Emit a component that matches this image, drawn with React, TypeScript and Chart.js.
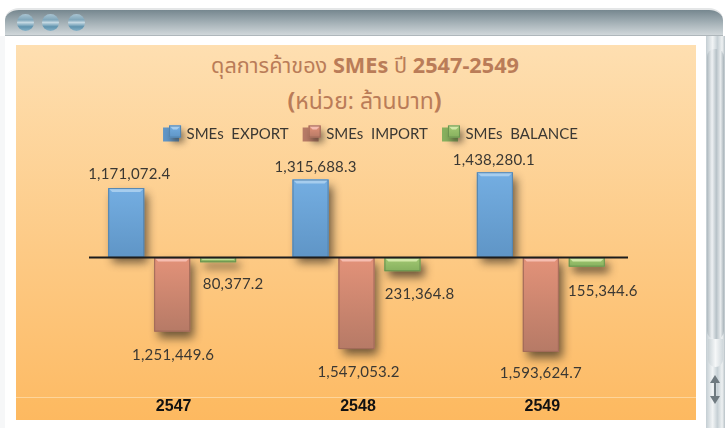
import React, { useEffect, useRef } from "react";
import { Chart, registerables } from "chart.js";

Chart.register(...registerables);

const categories = ["2547", "2548", "2549"];
const seriesNames = ["SMEs  EXPORT", "SMEs  IMPORT", "SMEs  BALANCE"];
const exportValues = [1171072.4, 1315688.3, 1438280.1];
const importValues = [-1251449.6, -1547053.2, -1593624.7];
const balanceValues = [-80377.2, -231364.8, -155344.6];

const palettes = [
  { top: "#74aee2", bottom: "#5f95c6", light: "#a6cdee", dark: "#5484ae" },
  { top: "#e39279", bottom: "#b67a66", light: "#f6bdb0", dark: "#a06a58" },
  { top: "#a3c973", bottom: "#86b05e", light: "#d3e8a8", dark: "#6c9450" },
];
// Label nudges from the bar end, per series / category [dx, dy]
const labelNudges = [
  [[3, -14], [5, -12], [-1, -12]],
  [[1, 24], [2, 23], [0, 21]],
  [[15, 22], [17, 23], [16, 25]],
];

const labelText = (v: number) =>
  Math.abs(v).toLocaleString("en-US", { minimumFractionDigits: 1, maximumFractionDigits: 1 });

function bevel(ctx: CanvasRenderingContext2D, x: number, y: number, w: number, h: number, p: typeof palettes[0]) {
  const g = ctx.createLinearGradient(0, y, 0, y + h);
  g.addColorStop(0, p.top);
  g.addColorStop(1, p.bottom);
  ctx.fillStyle = g;
  ctx.fillRect(x, y, w, h);
  const b = Math.min(4, h / 2);
  ctx.fillStyle = p.light;
  ctx.beginPath();
  ctx.moveTo(x, y);
  ctx.lineTo(x + w, y);
  ctx.lineTo(x + w - b, y + b);
  ctx.lineTo(x + b, y + b);
  ctx.closePath();
  ctx.fill();
  ctx.strokeStyle = p.dark;
  ctx.lineWidth = 1;
  ctx.strokeRect(x + 0.5, y + 0.5, w - 1, h - 1);
}

const decor = {
  id: "decor",
  beforeDatasetDraw(chart: any) {
    const c = chart.ctx;
    c.save();
    c.shadowColor = "rgba(50,40,30,0.7)";
    c.shadowBlur = 9;
    c.shadowOffsetX = 4;
    c.shadowOffsetY = 6;
  },
  afterDatasetDraw(chart: any, args: any) {
    const c = chart.ctx;
    c.restore();
    const meta = chart.getDatasetMeta(args.index);
    meta.data.forEach((el: any) => {
      const top = Math.min(el.y, el.base);
      const h = Math.abs(el.y - el.base);
      bevel(c, el.x - el.width / 2, top, el.width, h, palettes[args.index]);
    });
  },
  afterDatasetsDraw(chart: any) {
    const c = chart.ctx;
    const { x, y } = chart.scales;
    const zero = y.getPixelForValue(0);
    c.save();
    c.strokeStyle = "#1c1c1c";
    c.lineWidth = 2;
    c.beginPath();
    c.moveTo(x.left + 9, zero);
    c.lineTo(x.right - 5, zero);
    c.stroke();
    c.font = "15px Lato";
    c.fillStyle = "#3b3833";
    c.textAlign = "center";
    c.textBaseline = "middle";
    (c as any).letterSpacing = "0.2px";
    chart.data.datasets.forEach((ds: any, i: number) => {
      chart.getDatasetMeta(i).data.forEach((el: any, j: number) => {
        const [dx, dy] = labelNudges[i][j];
        c.fillText(labelText(ds.data[j]), el.x + dx, el.y + dy);
      });
    });
    c.restore();
  },
  afterLayout(chart: any) {
    chart.legend.left += 14;
    chart.legend.right += 14;
  },
  afterDraw(chart: any) {
    const c = chart.ctx;
    (chart.legend.legendHitBoxes || []).forEach((box: any, i: number) => {
      const s = 12;
      const bx = box.left + 6;
      const by = box.top + (box.height - s) / 2 - 3;
      c.save();
      c.shadowColor = "rgba(50,40,30,0.6)";
      c.shadowBlur = 7;
      c.shadowOffsetX = 3;
      c.shadowOffsetY = 5;
      c.fillStyle = palettes[i].bottom;
      c.fillRect(bx, by, s, s);
      c.restore();
      bevel(c, bx, by, s, s, palettes[i]);
    });
  },
};

const thai = "'Noto Sans', 'Noto Sans Thai', Lato, sans-serif";

const abs = (l: number, t: number, w: number, h: number, extra: React.CSSProperties = {}): React.CSSProperties => ({
  position: "absolute",
  left: l,
  top: t,
  width: w,
  height: h,
  ...extra,
});

const dot = (l: number) => (
  <div
    key={l}
    style={abs(l, 14, 17, 17, {
      borderRadius: "50%",
      background: "linear-gradient(#a9c4d2 0%, #7fa6ba 35%, #c4d8e2 50%, #5f93ae 75%, #86b2c8 100%)",
    })}
  />
);

export default function App() {
  const ref = useRef<HTMLCanvasElement>(null);
  useEffect(() => {
    document.body.style.margin = "0";
    const chart = new Chart(ref.current!, {
      type: "bar",
      data: {
        labels: categories,
        datasets: [exportValues, importValues, balanceValues].map((data, i) => ({
          label: seriesNames[i],
          data,
          backgroundColor: palettes[i].bottom,
          categoryPercentage: 0.748,
          barPercentage: 0.783,
        })),
      },
      options: {
        animation: false,
        responsive: false,
        layout: { padding: { left: 80, right: 92, top: 113, bottom: 8 } },
        plugins: {
          tooltip: { enabled: false },
          title: { display: false },
          legend: {
            position: "top",
            labels: {
              boxWidth: 16,
              boxHeight: 14,
              padding: 14,
              color: "#3b3833",
              font: { family: "Lato", size: 15 },
            },
          },
        },
        scales: {
          x: {
            grid: { display: false, drawTicks: false },
            border: { display: false },
            afterFit(s: any) {
              s.height = 23;
            },
            ticks: {
              color: "#111",
              maxRotation: 0,
              padding: 0,
              labelOffset: 1.5,
              font: { family: "'Liberation Sans'", size: 16, weight: "bold" },
            },
          },
          y: { display: false, min: -2356000, max: 1780000 },
        },
      } as any,
      plugins: [decor as any],
    });
    return () => chart.destroy();
  }, []);

  return (
    <div style={{ position: "relative", width: 725, height: 428, overflow: "hidden", background: "#fff" }}>
      <div
        style={abs(5, 8, 718, 28, {
          borderRadius: "14px 14px 0 0 / 12px 12px 0 0",
          background: "linear-gradient(#76878f 0%, #a0adb3 45%, #cfd6d9 95%, #9aa3a8 100%)",
          borderTop: "2px solid #e4e6e7",
          boxSizing: "border-box",
        })}
      />
      {[17, 42, 68].map(dot)}
      <div style={abs(0, 36, 5, 392, { background: "#f6f7f8" })} />
      <div
        style={abs(706, 36, 19, 392, {
          background: "linear-gradient(90deg, #c4ced3 0%, #f1f4f5 35%, #c6d0d5 60%, #eef1f2 85%, #b8c2c7 100%)",
        })}
      />
      <div
        style={abs(707, 49, 17, 290, {
          borderRadius: "8px 8px 8px 8px",
          background: "linear-gradient(90deg, #aeb9bf 0%, #eef1f3 30%, #b7c2c8 55%, #e6eaec 80%, #a8b3b9 100%)",
        })}
      />
      <div style={abs(708, 339, 15, 28, { background: "linear-gradient(90deg,#c9d2d6,#f5f7f8,#d0d8dc)", borderRadius: "0 0 8px 8px" })} />
      <div style={abs(710, 375, 0, 0, { borderLeft: "5px solid transparent", borderRight: "5px solid transparent", borderBottom: "8px solid #6f7a80" })} />
      <div style={abs(714, 383, 2, 14, { background: "#6f7a80" })} />
      <div style={abs(710, 396, 0, 0, { borderLeft: "5px solid transparent", borderRight: "5px solid transparent", borderTop: "8px solid #6f7a80" })} />
      <div style={abs(16, 45, 680, 375, { background: "linear-gradient(#fedfb1 0%, #fdca85 55%, #fdba63 100%)" })} />
      <div style={abs(16, 397, 680, 23, { borderTop: "1px solid rgba(255,235,200,0.55)", boxSizing: "border-box", background: "rgba(255,180,80,0.15)" })} />
      <div
        style={abs(16, 50, 698, 32, {
          textAlign: "center",
          color: "#ba7c58",
          fontFamily: thai,
          fontSize: 21.7,
          lineHeight: "30px",
          whiteSpace: "pre",
        })}
      >
        ดุลการค้าของ <b>SMEs</b> ปี <b>2547-2549</b>
      </div>
      <div
        style={abs(16, 85, 697, 32, {
          textAlign: "center",
          color: "#ba7c58",
          fontFamily: thai,
          fontSize: 23,
          lineHeight: "30px",
          whiteSpace: "pre",
        })}
      >
        <b>(</b>หน่วย: ล้านบาท<b>)</b>
      </div>
      <canvas ref={ref} width={725} height={428} style={{ position: "absolute", left: 0, top: 0, display: "block" }} />
    </div>
  );
}
